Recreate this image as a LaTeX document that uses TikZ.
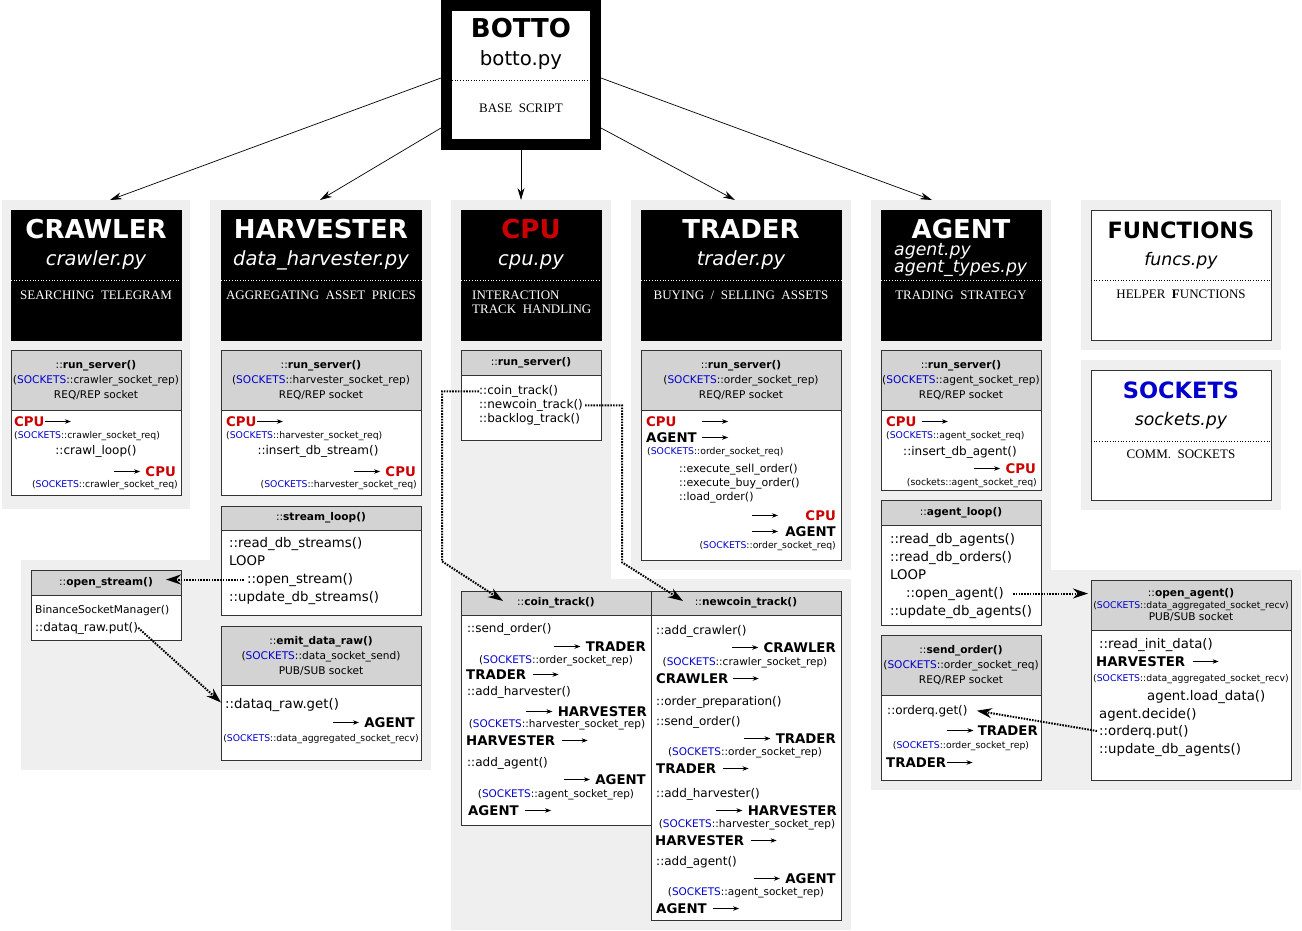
\documentclass[tikz,border=0pt]{standalone}
\usepackage{fontspec}
\setmainfont{DejaVu Sans}
\newfontfamily\descfont{Liberation Serif}
\usetikzlibrary{arrows.meta, positioning, calc}
\definecolor{bggray}{HTML}{EFEFEF}
\definecolor{hdgray}{HTML}{D3D3D3}
\definecolor{cpured}{HTML}{CC0000}
\definecolor{sktblue}{HTML}{0000CC}

\newcommand{\rarr}{\tikz[baseline=-4.5pt]\draw[line width=0.75pt,-{Stealth[length=6pt,width=4.5pt]}] (0pt,0pt) -- (26pt,0pt);}
\newcommand{\skt}[1]{({\color{sktblue}SOCKETS}::#1)}
\newcommand{\cpu}{{\color{cpured}CPU}}

\tikzset{
  modhead/.style={fill=black, draw=black, inner sep=0pt, outer sep=0pt, minimum height=130, anchor=north west},
  modlight/.style={fill=white, draw=black!80, line width=0.9pt, inner sep=0pt, outer sep=0pt, minimum height=130, anchor=north west},
  fnhead/.style={fill=hdgray, draw=black!80, line width=0.9pt, inner sep=0pt, outer sep=0pt, anchor=north west, align=center, font=\fontsize{10.6}{15}\selectfont},
  fnbody/.style={fill=white, draw=black!80, line width=0.9pt, inner sep=0pt, outer sep=0pt, anchor=north west},
  ttl/.style={anchor=base, inner sep=0pt, font=\fontsize{26}{30}\selectfont\bfseries},
  pyfile/.style={anchor=base, inner sep=0pt, font=\fontsize{19.5}{22}\selectfont\itshape},
  dsc/.style={anchor=base, inner sep=0pt, font=\descfont\fontsize{13}{15}\selectfont},
  hdots/.style={dotted, line width=0.7pt},
  lft/.style={anchor=base west, inner sep=0pt},
  rgt/.style={anchor=base east, inner sep=0pt},
  ctr/.style={anchor=base, inner sep=0pt},
  cd/.style={font=\fontsize{12}{14}\selectfont},
  cds/.style={font=\fontsize{11}{13}\selectfont},
  cdl/.style={font=\fontsize{13.3}{16}\selectfont},
  nm/.style={font=\fontsize{13.3}{16}\selectfont\bfseries},
  sk/.style={font=\fontsize{9.3}{11}\selectfont},
  skl/.style={font=\fontsize{10.5}{12}\selectfont},
  botlink/.style={-{Stealth[length=12pt,width=7pt]}, line width=0.7pt},
  dotlink/.style={line width=2pt, dash pattern=on 1.6pt off 1.2pt, -{Stealth[length=15pt,width=10pt]}},
}

\begin{document}
\begin{tikzpicture}[x=1pt, y=-1pt]
  \useasboundingbox (0,0) rectangle (1302,931);
  % Column backgrounds
  \fill[bggray] (2,200) rectangle (190,509);
  \fill[bggray] (210,200) rectangle (431,770);
  \fill[bggray] (21,560) rectangle (431,770);
  \fill[bggray] (451,200) rectangle (611,930);
  \fill[bggray] (451,579) rectangle (851,930);
  \fill[bggray] (631,200) rectangle (851,570);
  \fill[bggray] (871,200) rectangle (1051,790);
  \fill[bggray] (871,570) rectangle (1301,790);
  \fill[bggray] (1081,200) rectangle (1281,350);
  \fill[bggray] (1081,360) rectangle (1281,510);

  % BOTTO
  \node[fill=white, draw=black, line width=11pt, outer sep=5.5pt, minimum width=149, minimum height=139] (botto) at (521,75) {};
  \node[ttl] (botto-ttl) at (521,38) {BOTTO};
  \node[anchor=base, inner sep=0pt, font=\fontsize{19.7}{22}\selectfont] (botto-file) at (521,66) {botto.py};
  \draw[hdots] ([xshift=11pt,yshift=-80pt]botto.north west) -- ([xshift=-11pt,yshift=-80pt]botto.north east);
  \node[dsc] (botto-dsc) at (521,113) {BASE\ \ SCRIPT};

  % CRAWLER
  \node[modhead, minimum width=170] (cr) at (11,210) {};
  \node[ttl, white] (cr-ttl) at (96,238) {CRAWLER};
  \node[pyfile, white] (cr-file) at (96,265) {crawler.py};
  \draw[hdots, white] ([yshift=-70pt]cr.north west) -- ([yshift=-70pt]cr.north east);
  \node[dsc, white] (cr-dsc) at (96,299) {SEARCHING\ \ TELEGRAM};
  \node[fnhead, minimum width=170, minimum height=60] (cr-head) at (11,350) {::\textbf{run\_server()}\\\skt{crawler\_socket\_rep}\\REQ/REP socket};
  \node[fnbody, minimum width=170, minimum height=85] (cr-body) at (11,410) {};
  \node[lft, nm] (cr-l1) at (14,426) {\cpu\rarr};
  \node[lft, sk] (cr-l2) at (14,438) {\skt{crawler\_socket\_req}};
  \node[ctr, cd] (cr-l3) at (96,454) {::crawl\_loop()};
  \node[rgt, nm] (cr-l4) at (176,476) {\rarr\hspace{5pt}\cpu};
  \node[rgt, sk] (cr-l5) at (178,487) {\skt{crawler\_socket\_req}};

  % HARVESTER
  \node[modhead, minimum width=200] (hv) at (221,210) {};
  \node[ttl, white] (hv-ttl) at (321,238) {HARVESTER};
  \node[pyfile, white] (hv-file) at (321,265) {data\_harvester.py};
  \draw[hdots, white] ([yshift=-70pt]hv.north west) -- ([yshift=-70pt]hv.north east);
  \node[dsc, white] (hv-dsc) at (321,299) {AGGREGATING\ \ ASSET\ \ PRICES};
  \node[fnhead, minimum width=200, minimum height=60] (hv-head) at (221,350) {::\textbf{run\_server()}\\\skt{harvester\_socket\_rep}\\REQ/REP socket};
  \node[fnbody, minimum width=200, minimum height=85] (hv-body) at (221,410) {};
  \node[lft, nm] (hv-l1) at (226,426) {\cpu\rarr};
  \node[lft, sk] (hv-l2) at (226,438) {\skt{harvester\_socket\_req}};
  \node[ctr, cd] (hv-l3) at (318,454) {::insert\_db\_stream()};
  \node[rgt, nm] (hv-l4) at (416,476) {\rarr\hspace{5pt}\cpu};
  \node[rgt, sk] (hv-l5) at (417,487) {\skt{harvester\_socket\_req}};

  \node[fnhead, minimum width=200, minimum height=24] (sl-head) at (221,506) {::\textbf{stream\_loop()}};
  \node[fnbody, minimum width=200, minimum height=85] (sl-body) at (221,530) {};
  \node[lft, cdl] (sl-l1) at (229,547) {::read\_db\_streams()};
  \node[lft, cdl] (sl-l2) at (229,565) {LOOP};
  \node[lft, cdl] (sl-l3) at (247,583) {::open\_stream()};
  \node[lft, cdl] (sl-l4) at (229,601) {::update\_db\_streams()};

  \node[fnhead, minimum width=150, minimum height=25] (os-head) at (31,570) {::\textbf{open\_stream()}};
  \node[fnbody, minimum width=150, minimum height=45] (os-body) at (31,595) {};
  \node[lft, font=\fontsize{10.7}{13}\selectfont] (os-l1) at (35,613) {BinanceSocketManager()};
  \node[lft, cd] (os-l2) at (35,631) {::dataq\_raw.put()};

  \node[fnhead, minimum width=200, minimum height=59] (ed-head) at (221,626) {::\textbf{emit\_data\_raw()}\\\skt{data\_socket\_send}\\PUB/SUB socket};
  \node[fnbody, minimum width=200, minimum height=75] (ed-body) at (221,685) {};
  \node[lft, cdl] (ed-l1) at (225,708) {::dataq\_raw.get()};
  \node[rgt, nm] (ed-l2) at (415,727) {\rarr\hspace{5pt}AGENT};
  \node[ctr, sk] (ed-l3) at (321,741) {\skt{data\_aggregated\_socket\_recv}};

  % CPU
  \node[modhead, minimum width=140] (cpu) at (461,210) {};
  \node[ttl, cpured] (cpu-ttl) at (531,238) {CPU};
  \node[pyfile, white] (cpu-file) at (531,265) {cpu.py};
  \draw[hdots, white] ([yshift=-70pt]cpu.north west) -- ([yshift=-70pt]cpu.north east);
  \node[dsc, white, anchor=base west] (cpu-dsc1) at (472,299) {INTERACTION};
  \node[dsc, white, anchor=base west] (cpu-dsc2) at (472,313.5) {TRACK\ \ HANDLING};
  \node[fnhead, minimum width=140, minimum height=25] (cpu-head) at (461,350) {::\textbf{run\_server()}};
  \node[fnbody, minimum width=140, minimum height=65] (cpu-body) at (461,375) {};
  \node[lft, cd] (cpu-l1) at (479,394.5) {::coin\_track()};
  \node[lft, cd] (cpu-l2) at (479,408.5) {::newcoin\_track()};
  \node[lft, cd] (cpu-l3) at (479,422.5) {::backlog\_track()};

  \node[fnhead, minimum width=190, minimum height=24] (ct-head) at (461,591) {::\textbf{coin\_track()}};
  \node[fnbody, minimum width=190, minimum height=210] (ct-body) at (461,615) {};
  \node[lft, cd] (ct-l1) at (467,632) {::send\_order()};
  \node[rgt, nm] (ct-l2) at (646,651) {\rarr\hspace{5pt}TRADER};
  \node[ctr, skl] (ct-l3) at (556,663) {\skt{order\_socket\_rep}};
  \node[lft, nm] (ct-l4) at (466,679) {TRADER\hspace{6pt}\rarr};
  \node[lft, cd] (ct-l5) at (467,695) {::add\_harvester()};
  \node[rgt, nm] (ct-l6) at (647,716) {\rarr\hspace{5pt}HARVESTER};
  \node[ctr, skl] (ct-l7) at (557,727) {\skt{harvester\_socket\_rep}};
  \node[lft, nm] (ct-l8) at (466,745) {HARVESTER\hspace{6pt}\rarr};
  \node[lft, cd] (ct-l9) at (467,766) {::add\_agent()};
  \node[rgt, nm] (ct-l10) at (646,784) {\rarr\hspace{5pt}AGENT};
  \node[ctr, skl] (ct-l11) at (556,797) {\skt{agent\_socket\_rep}};
  \node[lft, nm] (ct-l12) at (468,815) {AGENT\hspace{6pt}\rarr};

  \node[fnhead, minimum width=190, minimum height=24] (nt-head) at (651,591) {::\textbf{newcoin\_track()}};
  \node[fnbody, minimum width=190, minimum height=305] (nt-body) at (651,615) {};
  \node[lft, cd] (nt-l1) at (656,634) {::add\_crawler()};
  \node[rgt, nm] (nt-l2) at (836,652) {\rarr\hspace{5pt}CRAWLER};
  \node[ctr, skl] (nt-l3) at (745,665) {\skt{crawler\_socket\_rep}};
  \node[lft, nm] (nt-l4) at (656,683) {CRAWLER\hspace{4pt}\rarr};
  \node[lft, cd] (nt-l5) at (656,705) {::order\_preparation()};
  \node[lft, cd] (nt-l6) at (656,725) {::send\_order()};
  \node[rgt, nm] (nt-l7) at (836,743) {\rarr\hspace{5pt}TRADER};
  \node[ctr, skl] (nt-l8) at (745,755) {\skt{order\_socket\_rep}};
  \node[lft, nm] (nt-l9) at (656,773) {TRADER\hspace{6pt}\rarr};
  \node[lft, cd] (nt-l10) at (656,797) {::add\_harvester()};
  \node[rgt, nm] (nt-l11) at (837,815) {\rarr\hspace{5pt}HARVESTER};
  \node[ctr, skl] (nt-l12) at (747,827) {\skt{harvester\_socket\_rep}};
  \node[lft, nm] (nt-l13) at (655,845) {HARVESTER\hspace{6pt}\rarr};
  \node[lft, cd] (nt-l14) at (656,865) {::add\_agent()};
  \node[rgt, nm] (nt-l15) at (836,883) {\rarr\hspace{5pt}AGENT};
  \node[ctr, skl] (nt-l16) at (746,895) {\skt{agent\_socket\_rep}};
  \node[lft, nm] (nt-l17) at (656,913) {AGENT\hspace{6pt}\rarr};

  % TRADER
  \node[modhead, minimum width=200] (tr) at (641,210) {};
  \node[ttl, white] (tr-ttl) at (741,238) {TRADER};
  \node[pyfile, white] (tr-file) at (741,265) {trader.py};
  \draw[hdots, white] ([yshift=-70pt]tr.north west) -- ([yshift=-70pt]tr.north east);
  \node[dsc, white] (tr-dsc) at (741,299) {BUYING\ \ /\ \ SELLING\ \ ASSETS};
  \node[fnhead, minimum width=200, minimum height=60] (tr-head) at (641,350) {::\textbf{run\_server()}\\\skt{order\_socket\_rep}\\REQ/REP socket};
  \node[fnbody, minimum width=200, minimum height=150] (tr-body) at (641,410) {};
  \node[lft, nm] (tr-l1) at (646,426) {\rlap{\cpu}\phantom{AGENT}\hspace{5pt}\rarr};
  \node[lft, nm] (tr-l2) at (646,442) {AGENT\hspace{5pt}\rarr};
  \node[lft, sk] (tr-l3) at (647,454) {\skt{order\_socket\_req}};
  \node[lft, cds] (tr-l4) at (679,472) {::execute\_sell\_order()};
  \node[lft, cds] (tr-l5) at (679,486) {::execute\_buy\_order()};
  \node[lft, cds] (tr-l6) at (679,500) {::load\_order()};
  \node[rgt, nm] (tr-l7) at (836,520) {\rarr\hspace{7pt}\phantom{AGENT}\llap{\cpu}};
  \node[rgt, nm] (tr-l8) at (836,536) {\rarr\hspace{7pt}AGENT};
  \node[rgt, sk] (tr-l9) at (836,548) {\skt{order\_socket\_req}};

  % AGENT
  \node[modhead, minimum width=160] (ag) at (881,210) {};
  \node[ttl, white] (ag-ttl) at (961,238) {AGENT};
  \node[pyfile, white, anchor=base west, font=\fontsize{17.3}{20}\selectfont\itshape] (ag-file1) at (894,255) {agent.py};
  \node[pyfile, white, anchor=base west, font=\fontsize{17.3}{20}\selectfont\itshape] (ag-file2) at (894,272) {agent\_types.py};
  \draw[hdots, white] ([yshift=-70pt]ag.north west) -- ([yshift=-70pt]ag.north east);
  \node[dsc, white] (ag-dsc) at (961,299) {TRADING\ \ STRATEGY};
  \node[fnhead, minimum width=160, minimum height=60] (ag-head) at (881,350) {::\textbf{run\_server()}\\\skt{agent\_socket\_rep}\\REQ/REP socket};
  \node[fnbody, minimum width=160, minimum height=80] (ag-body) at (881,410) {};
  \node[lft, nm] (ag-l1) at (886,426) {\cpu\hspace{5pt}\rarr};
  \node[lft, sk] (ag-l2) at (886,438) {\skt{agent\_socket\_req}};
  \node[ctr, cd] (ag-l3) at (960,455) {::insert\_db\_agent()};
  \node[rgt, nm] (ag-l4) at (1036,473) {\rarr\hspace{5pt}\cpu};
  \node[rgt, sk] (ag-l5) at (1037,485) {(sockets::agent\_socket\_req)};

  \node[fnhead, minimum width=160, minimum height=25] (al-head) at (881,500) {::\textbf{agent\_loop()}};
  \node[fnbody, minimum width=160, minimum height=100] (al-body) at (881,525) {};
  \node[lft, cdl] (al-l1) at (890,543) {::read\_db\_agents()};
  \node[lft, cdl] (al-l2) at (890,561) {::read\_db\_orders()};
  \node[lft, cdl] (al-l3) at (890,579) {LOOP};
  \node[lft, cdl] (al-l4) at (906,597) {::open\_agent()};
  \node[lft, cdl] (al-l5) at (890,615) {::update\_db\_agents()};

  \node[fnhead, minimum width=160, minimum height=60] (so-head) at (881,635) {::\textbf{send\_order()}\\\skt{order\_socket\_req}\\REQ/REP socket};
  \node[fnbody, minimum width=160, minimum height=85] (so-body) at (881,695) {};
  \node[lft, cd] (so-l1) at (887,714) {::orderq.get()};
  \node[rgt, nm] (so-l2) at (1038,735) {\rarr\hspace{4pt}TRADER};
  \node[ctr, sk] (so-l3) at (961,748) {\skt{order\_socket\_rep}};
  \node[lft, nm] (so-l4) at (886,767) {TRADER\rarr};

  \node[fnhead, minimum width=200, minimum height=50, font=\fontsize{10.6}{12}\selectfont] (oa-head) at (1091,580) {::\textbf{open\_agent()}\\{\fontsize{9.3}{12}\selectfont\skt{data\_aggregated\_socket\_recv}}\\PUB/SUB socket};
  \node[fnbody, minimum width=200, minimum height=150] (oa-body) at (1091,630) {};
  \node[lft, cdl] (oa-l1) at (1099,648) {::read\_init\_data()};
  \node[lft, nm] (oa-l2) at (1096,666) {HARVESTER\hspace{7pt}\rarr};
  \node[lft, sk] (oa-l3) at (1093,681) {\skt{data\_aggregated\_socket\_recv}};
  \node[lft, cdl] (oa-l4) at (1147,700) {agent.load\_data()};
  \node[lft, cdl] (oa-l5) at (1099,718) {agent.decide()};
  \node[lft, cdl] (oa-l6) at (1099,735) {::orderq.put()};
  \node[lft, cdl] (oa-l7) at (1099,753) {::update\_db\_agents()};

  % FUNCTIONS / SOCKETS
  \node[modlight, minimum width=180] (fn) at (1091,210) {};
  \node[ttl, font=\fontsize{22.5}{26}\selectfont\bfseries] (fn-ttl) at (1181,238) {FUNCTIONS};
  \node[pyfile, font=\fontsize{17.3}{20}\selectfont\itshape] (fn-file) at (1181,265) {funcs.py};
  \draw[hdots] ([yshift=-70pt]fn.north west) -- ([yshift=-70pt]fn.north east);
  \node[dsc] (fn-dsc) at (1181,298) {HELPER\ \ \textbf{F}UNCTIONS};
  \node[modlight, minimum width=180] (sock) at (1091,370) {};
  \node[ttl, sktblue, font=\fontsize{22.5}{26}\selectfont\bfseries] (sock-ttl) at (1181,398) {SOCKETS};
  \node[pyfile, font=\fontsize{17.3}{20}\selectfont\itshape] (sock-file) at (1181,425) {sockets.py};
  \draw[hdots] ([yshift=-71pt]sock.north west) -- ([yshift=-71pt]sock.north east);
  \node[dsc] (sock-dsc) at (1181,458) {COMM.\ \ SOCKETS};

  % Links from base script
  \coordinate (to-cr) at (110,200);
  \coordinate (to-hv) at (320,200);
  \coordinate (to-cpu) at (521,200);
  \coordinate (to-tr) at (735,200);
  \coordinate (to-ag) at (932,200);
  \draw[botlink] ([yshift=-3pt]botto.west) -- (to-cr);
  \draw[botlink] ([yshift=-53pt]botto.west) -- (to-hv);
  \draw[botlink] (botto.south) -- (to-cpu);
  \draw[botlink] ([yshift=-53pt]botto.east) -- (to-tr);
  \draw[botlink] ([yshift=-3pt]botto.east) -- (to-ag);

  % Dotted calls
  \draw[dotlink, shorten <=3pt, shorten >=-15pt] (sl-l3.west) -- (sl-l3.west -| os-head.east);
  \draw[dotlink] (os-l2.east) -- ([yshift=20pt]ed-body.west);
  \draw[dotlink] (cpu-l1.west) -- ++(-37,0) -- ++(0,170) -- ([xshift=42pt,yshift=-10pt]ct-head.north west);
  \draw[dotlink] ([xshift=2pt]cpu-l2.east) -- ++(37,0) -- ++(0,157) -- ([xshift=32pt,yshift=-10pt]nt-head.north west);
  \draw[dotlink, shorten <=9pt, shorten >=3pt] (al-l4.east) -- (al-l4.east -| oa-head.west);
  \draw[dotlink, shorten <=2pt] (oa-l6.west) -- ([xshift=9pt]so-l1.east);
\end{tikzpicture}
\end{document}
